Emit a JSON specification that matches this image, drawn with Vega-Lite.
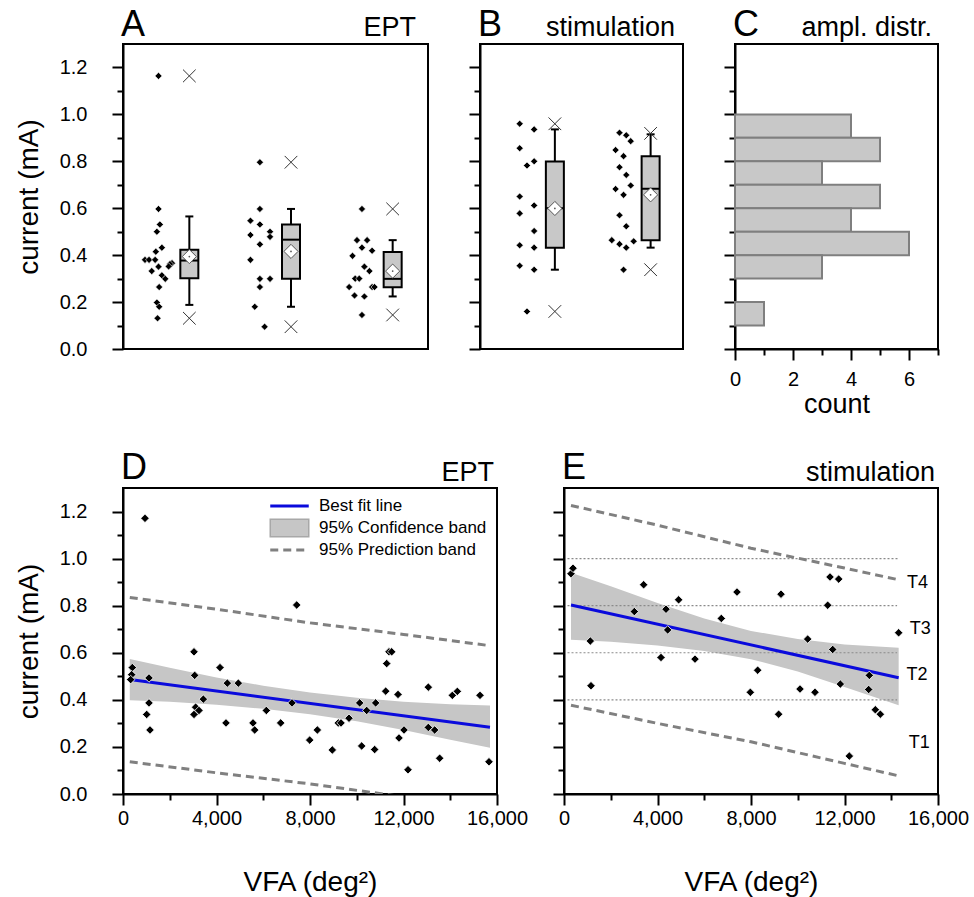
{
  "$schema": "https://vega.github.io/schema/vega-lite/v6.json",
  "background": "white",
  "padding": {"left": 14, "top": 6, "right": 5, "bottom": 5},
  "config": {
    "font": "Liberation Sans",
    "view": {"stroke": "#000", "strokeWidth": 2},
    "axis": {"domainColor": "#000", "domainWidth": 2, "tickColor": "#000", "tickWidth": 2, "tickSize": 11, "labelColor": "#000", "labelFontSize": 20, "titleColor": "#000", "titleFontSize": 28, "titleFontWeight": "normal", "grid": false, "labelFont": "Liberation Sans", "titleFont": "Liberation Sans"},
    "text": {"font": "Liberation Sans", "color": "#000"}
  },
  "datasets": {
    "a_dots": [
      {"g":"sham","v":1.164,"j":0},{"g":"sham","v":0.597,"j":0},{"g":"sham","v":0.531,"j":0.1},{"g":"sham","v":0.5,"j":-0.12},{"g":"sham","v":0.432,"j":0.25},{"g":"sham","v":0.415,"j":-0.2},{"g":"sham","v":0.38,"j":-1},{"g":"sham","v":0.38,"j":-0.7},{"g":"sham","v":0.38,"j":-0.25},{"g":"sham","v":0.366,"j":1},{"g":"sham","v":0.362,"j":0.85},{"g":"sham","v":0.351,"j":0},{"g":"sham","v":0.352,"j":0.75},{"g":"sham","v":0.332,"j":-0.5},{"g":"sham","v":0.314,"j":0.25},{"g":"sham","v":0.299,"j":0.5},{"g":"sham","v":0.264,"j":0.05},{"g":"sham","v":0.198,"j":-0.12},{"g":"sham","v":0.18,"j":0.05},{"g":"sham","v":0.131,"j":-0.07},
      {"g":"150%","v":0.796,"j":-0.02},{"g":"150%","v":0.597,"j":-0.02},{"g":"150%","v":0.547,"j":-0.72},{"g":"150%","v":0.531,"j":-0.02},{"g":"150%","v":0.5,"j":0.73},{"g":"150%","v":0.486,"j":-0.72},{"g":"150%","v":0.478,"j":0.73},{"g":"150%","v":0.446,"j":-0.02},{"g":"150%","v":0.38,"j":-0.72},{"g":"150%","v":0.299,"j":-0.02},{"g":"150%","v":0.299,"j":0.73},{"g":"150%","v":0.264,"j":-0.02},{"g":"150%","v":0.18,"j":-0.4},{"g":"150%","v":0.095,"j":0.33},
      {"g":"200%","v":0.597,"j":0.01},{"g":"200%","v":0.464,"j":-0.36},{"g":"200%","v":0.464,"j":0.39},{"g":"200%","v":0.432,"j":0.01},{"g":"200%","v":0.419,"j":0.76},{"g":"200%","v":0.397,"j":-0.69},{"g":"200%","v":0.351,"j":0.19},{"g":"200%","v":0.332,"j":0.56},{"g":"200%","v":0.3,"j":-0.49},{"g":"200%","v":0.3,"j":-0.19},{"g":"200%","v":0.264,"j":-0.94},{"g":"200%","v":0.264,"j":0.76},{"g":"200%","v":0.264,"j":0.94},{"g":"200%","v":0.228,"j":-0.54},{"g":"200%","v":0.224,"j":0.19},{"g":"200%","v":0.145,"j":0.01}
    ],
    "a_box": [
      {"g":"sham","q1":0.302,"med":0.377,"q3":0.423,"wlo":0.188,"whi":0.565,"mean":0.394,"mn":0.131,"mx":1.164},
      {"g":"150%","q1":0.299,"med":0.466,"q3":0.531,"wlo":0.18,"whi":0.597,"mean":0.416,"mn":0.095,"mx":0.796},
      {"g":"200%","q1":0.263,"med":0.299,"q3":0.413,"wlo":0.224,"whi":0.464,"mean":0.332,"mn":0.145,"mx":0.597}
    ],
    "b_dots": [
      {"g":"150%","v":0.96,"j":-0.54},{"g":"150%","v":0.936,"j":0.53},{"g":"150%","v":0.856,"j":-0.54},{"g":"150%","v":0.782,"j":0},{"g":"150%","v":0.8,"j":0.53},{"g":"150%","v":0.65,"j":-0.54},{"g":"150%","v":0.612,"j":0.53},{"g":"150%","v":0.578,"j":-0.54},{"g":"150%","v":0.503,"j":0.53},{"g":"150%","v":0.442,"j":-0.54},{"g":"150%","v":0.432,"j":0.53},{"g":"150%","v":0.355,"j":-0.54},{"g":"150%","v":0.338,"j":0.53},{"g":"150%","v":0.16,"j":0},
      {"g":"200%","v":0.922,"j":-0.24},{"g":"200%","v":0.911,"j":0.26},{"g":"200%","v":0.886,"j":0.59},{"g":"200%","v":0.848,"j":-0.53},{"g":"200%","v":0.822,"j":0.06},{"g":"200%","v":0.775,"j":-0.24},{"g":"200%","v":0.742,"j":0.26},{"g":"200%","v":0.682,"j":-0.53},{"g":"200%","v":0.697,"j":0.59},{"g":"200%","v":0.657,"j":0.06},{"g":"200%","v":0.57,"j":-0.24},{"g":"200%","v":0.523,"j":0.26},{"g":"200%","v":0.464,"j":-0.81},{"g":"200%","v":0.447,"j":-0.24},{"g":"200%","v":0.432,"j":0.26},{"g":"200%","v":0.459,"j":0.81},{"g":"200%","v":0.338,"j":0.06}
    ],
    "b_box": [
      {"g":"150%","q1":0.432,"med":0.6,"q3":0.799,"wlo":0.338,"whi":0.936,"mean":0.599,"mn":0.16,"mx":0.96},
      {"g":"200%","q1":0.463,"med":0.683,"q3":0.822,"wlo":0.432,"whi":0.915,"mean":0.657,"mn":0.338,"mx":0.919}
    ],
    "hist": [
      {"lo":0.9,"hi":1.0,"n":4},{"lo":0.8,"hi":0.9,"n":5},{"lo":0.7,"hi":0.8,"n":3},{"lo":0.6,"hi":0.7,"n":5},{"lo":0.5,"hi":0.6,"n":4},{"lo":0.4,"hi":0.5,"n":6},{"lo":0.3,"hi":0.4,"n":3},{"lo":0.1,"hi":0.2,"n":1}
    ],
    "d_pts": [
      {"x":941,"y":1.171},{"x":399,"y":0.537},{"x":371,"y":0.507},{"x":328,"y":0.486},{"x":1112,"y":0.493},{"x":1112,"y":0.387},{"x":1013,"y":0.338},{"x":1155,"y":0.272},{"x":3037,"y":0.604},{"x":3066,"y":0.504},{"x":3108,"y":0.369},{"x":3037,"y":0.338},{"x":3251,"y":0.355},{"x":3437,"y":0.403},{"x":4150,"y":0.537},{"x":4463,"y":0.471},{"x":4934,"y":0.471},{"x":4406,"y":0.302},{"x":5561,"y":0.302},{"x":5633,"y":0.272},{"x":6132,"y":0.355},{"x":6745,"y":0.302},{"x":7230,"y":0.387},{"x":7430,"y":0.803},{"x":7986,"y":0.229},{"x":8315,"y":0.272},{"x":8955,"y":0.187},{"x":9212,"y":0.302},{"x":9326,"y":0.302},{"x":9668,"y":0.322},{"x":10125,"y":0.387},{"x":10210,"y":0.204},{"x":10424,"y":0.355},{"x":10766,"y":0.189},{"x":10809,"y":0.387},{"x":11238,"y":0.437},{"x":11281,"y":0.554},{"x":11381,"y":0.604},{"x":11495,"y":0.604},{"x":11765,"y":0.423},{"x":11808,"y":0.238},{"x":12022,"y":0.272},{"x":12193,"y":0.103},{"x":13062,"y":0.454},{"x":13062,"y":0.283},{"x":13333,"y":0.272},{"x":13547,"y":0.152},{"x":14089,"y":0.419},{"x":14303,"y":0.436},{"x":15273,"y":0.419},{"x":15657,"y":0.137}
    ],
    "d_fit": [{"x":290,"y":0.486},{"x":15700,"y":0.284}],
    "d_band": [
      {"x":290,"lo":0.398,"hi":0.574},{"x":2000,"lo":0.392,"hi":0.536},{"x":4000,"lo":0.379,"hi":0.495},{"x":6000,"lo":0.362,"hi":0.46},{"x":8000,"lo":0.339,"hi":0.431},{"x":10000,"lo":0.309,"hi":0.409},{"x":12000,"lo":0.272,"hi":0.392},{"x":14000,"lo":0.231,"hi":0.381},{"x":15700,"lo":0.196,"hi":0.376}
    ],
    "d_pred": [
      {"x":290,"plo":0.137,"phi":0.835},{"x":4000,"plo":0.09,"phi":0.785},{"x":8000,"plo":0.043,"phi":0.727},{"x":12000,"plo":-0.012,"phi":0.678},{"x":15700,"plo":-0.065,"phi":0.63}
    ],
    "e_pts": [
      {"x":299,"y":0.936},{"x":385,"y":0.959},{"x":1127,"y":0.65},{"x":1155,"y":0.46},{"x":3009,"y":0.775},{"x":3408,"y":0.889},{"x":4150,"y":0.58},{"x":4364,"y":0.785},{"x":4435,"y":0.697},{"x":4905,"y":0.825},{"x":5604,"y":0.573},{"x":6730,"y":0.746},{"x":7401,"y":0.858},{"x":7971,"y":0.432},{"x":8285,"y":0.526},{"x":9183,"y":0.339},{"x":9283,"y":0.849},{"x":10096,"y":0.446},{"x":10424,"y":0.658},{"x":10737,"y":0.432},{"x":11281,"y":0.802},{"x":11380,"y":0.922},{"x":11495,"y":0.614},{"x":11751,"y":0.913},{"x":11822,"y":0.467},{"x":12207,"y":0.161},{"x":13062,"y":0.504},{"x":13033,"y":0.444},{"x":13319,"y":0.358},{"x":13533,"y":0.339},{"x":14317,"y":0.685}
    ],
    "e_fit": [{"x":299,"y":0.803},{"x":14317,"y":0.494}],
    "e_band": [
      {"x":299,"lo":0.655,"hi":0.94},{"x":2000,"lo":0.647,"hi":0.883},{"x":4000,"lo":0.631,"hi":0.811},{"x":6000,"lo":0.608,"hi":0.746},{"x":8000,"lo":0.573,"hi":0.693},{"x":10000,"lo":0.52,"hi":0.658},{"x":12000,"lo":0.455,"hi":0.635},{"x":14317,"lo":0.377,"hi":0.621}
    ],
    "e_pred": [
      {"x":299,"plo":0.377,"phi":1.226},{"x":4000,"plo":0.3,"phi":1.142},{"x":8000,"plo":0.222,"phi":1.044},{"x":12000,"plo":0.13,"phi":0.96},{"x":14317,"plo":0.077,"phi":0.91}
    ],
    "e_thr": [
      {"lvl":1.0,"x1":150,"x2":14320},{"lvl":0.8,"x1":150,"x2":14250},{"lvl":0.6,"x1":150,"x2":14250},{"lvl":0.4,"x1":150,"x2":14250}
    ],
    "e_tlab": [
      {"t":"T4","x":15125,"y":0.897},{"t":"T3","x":15245,"y":0.699},{"t":"T2","x":15100,"y":0.506},{"t":"T1","x":15200,"y":0.218}
    ]
  },
  "spacing": 31,
  "resolve": {"scale": {"stroke": "independent", "fill": "independent", "strokeDash": "independent"}, "legend": {"stroke": "independent", "fill": "independent", "strokeDash": "independent"}},
  "vconcat": [
    {
      "spacing": 38,
      "hconcat": [
        {
          "width": 305, "height": 305,
          "resolve": {"axis": {"y": "independent"}},
          "layer": [
            {
              "data": {"name": "a_dots"},
              "mark": {"type": "point", "shape": "diamond", "filled": true, "size": 50, "fill": "#000", "stroke": "#fff", "strokeWidth": 0.6, "opacity": 1},
              "encoding": {
                "x": {"field": "g", "type": "nominal", "scale": {"type": "band", "domain": ["sham", "150%", "200%"], "paddingInner": 0, "paddingOuter": 0}, "axis": {"title": null, "labelAngle": 0, "labelFontSize": 27, "labelPadding": 18}},
                "xOffset": {"field": "j", "type": "quantitative", "scale": {"domain": [-1, 1], "range": [22, 49]}},
                "y": {"field": "v", "type": "quantitative", "scale": {"domain": [0, 1.3], "nice": false, "zero": false}, "axis": {"orient": "left", "title": "current (mA)", "titlePadding": 16, "values": [0,0.2,0.4,0.6,0.8,1,1.2], "format": ".1f", "labelPadding": 25, "labelOverlap": false}}
              }
            },
            {
              "data": {"name": "a_box"},
              "mark": {"type": "rule", "stroke": "#000", "strokeWidth": 2, "xOffset": 15.5},
              "encoding": {"x": {"field": "g", "type": "nominal", "axis": null}, "y": {"field": "wlo", "type": "quantitative", "axis": {"orient": "left", "title": null, "labels": false, "domain": false, "tickSize": 6, "values": [0.1,0.3,0.5,0.7,0.9,1.1]}}, "y2": {"field": "whi"}}
            },
            {
              "data": {"name": "a_box"},
              "mark": {"type": "bar", "width": 18, "fill": "#c8c8c8", "stroke": "#000", "strokeWidth": 2, "xOffset": 15.5},
              "encoding": {"x": {"field": "g", "type": "nominal", "axis": null}, "y": {"field": "q1", "type": "quantitative", "axis": null}, "y2": {"field": "q3"}}
            },
            {
              "data": {"name": "a_box"},
              "transform": [{"fold": ["wlo", "whi"], "as": ["k", "cap"]}],
              "mark": {"type": "tick", "orient": "horizontal", "size": 8, "thickness": 2, "color": "#000", "opacity": 1, "xOffset": 15.5},
              "encoding": {"x": {"field": "g", "type": "nominal", "axis": null}, "y": {"field": "cap", "type": "quantitative", "axis": null}}
            },
            {
              "data": {"name": "a_box"},
              "mark": {"type": "tick", "orient": "horizontal", "size": 18, "thickness": 2, "color": "#000", "opacity": 1, "xOffset": 15.5},
              "encoding": {"x": {"field": "g", "type": "nominal", "axis": null}, "y": {"field": "med", "type": "quantitative", "axis": null}}
            },
            {
              "data": {"name": "a_box"},
              "mark": {"type": "point", "shape": "diamond", "size": 200, "filled": true, "fill": "#fff", "stroke": "#555", "strokeWidth": 1, "opacity": 1, "xOffset": 15.5},
              "encoding": {"x": {"field": "g", "type": "nominal", "axis": null}, "y": {"field": "mean", "type": "quantitative", "axis": null}}
            },
            {
              "data": {"name": "a_box"},
              "mark": {"type": "point", "shape": "circle", "size": 3, "filled": true, "fill": "#555", "strokeWidth": 0, "opacity": 1, "xOffset": 15.5},
              "encoding": {"x": {"field": "g", "type": "nominal", "axis": null}, "y": {"field": "mean", "type": "quantitative", "axis": null}}
            },
            {
              "data": {"name": "a_box"},
              "transform": [{"fold": ["mn", "mx"], "as": ["k", "ext"]}],
              "mark": {"type": "point", "shape": "M-1,-1L1,1M-1,1L1,-1", "size": 160, "filled": false, "stroke": "#333", "strokeWidth": 1, "opacity": 1, "xOffset": 15.5},
              "encoding": {"x": {"field": "g", "type": "nominal", "axis": null}, "y": {"field": "ext", "type": "quantitative", "axis": null}}
            },
            {
              "data": {"values": [{"p": "A", "n": "EPT"}]},
              "mark": {"type": "text", "fontSize": 36, "align": "left", "baseline": "alphabetic", "dx": -2, "dy": -8},
              "encoding": {"text": {"field": "p"}, "x": {"datum": "sham", "type": "nominal", "bandPosition": 0, "axis": null}, "y": {"datum": 1.3, "type": "quantitative", "axis": null}}
            },
            {
              "data": {"values": [{"p": "A", "n": "EPT"}]},
              "mark": {"type": "text", "fontSize": 27, "align": "right", "baseline": "alphabetic", "dx": -12, "dy": -8},
              "encoding": {"text": {"field": "n"}, "x": {"datum": "200%", "type": "nominal", "bandPosition": 1, "axis": null}, "y": {"datum": 1.3, "type": "quantitative", "axis": null}}
            }
          ]
        },
        {
          "width": 203, "height": 305,
          "resolve": {"axis": {"y": "independent"}},
          "layer": [
            {
              "data": {"name": "b_dots"},
              "mark": {"type": "point", "shape": "diamond", "filled": true, "size": 50, "fill": "#000", "stroke": "#fff", "strokeWidth": 0.6, "opacity": 1},
              "encoding": {
                "x": {"field": "g", "type": "nominal", "scale": {"type": "band", "domain": ["150%", "200%"], "paddingInner": 0, "paddingOuter": 0.06, "align": 1}, "axis": {"title": null, "labelAngle": 0, "labelFontSize": 27, "labelPadding": 18}},
                "xOffset": {"field": "j", "type": "quantitative", "scale": {"domain": [-1, 1], "range": [19.5, 45.5]}},
                "y": {"field": "v", "type": "quantitative", "scale": {"domain": [0, 1.3], "nice": false, "zero": false}, "axis": {"orient": "left", "title": null, "labels": false, "values": [0,0.2,0.4,0.6,0.8,1,1.2]}}
              }
            },
            {
              "data": {"name": "b_box"},
              "mark": {"type": "rule", "stroke": "#000", "strokeWidth": 2, "xOffset": 15.5},
              "encoding": {"x": {"field": "g", "type": "nominal", "axis": null}, "y": {"field": "wlo", "type": "quantitative", "axis": {"orient": "left", "title": null, "labels": false, "domain": false, "tickSize": 6, "values": [0.1,0.3,0.5,0.7,0.9,1.1]}}, "y2": {"field": "whi"}}
            },
            {
              "data": {"name": "b_box"},
              "mark": {"type": "bar", "width": 18, "fill": "#c8c8c8", "stroke": "#000", "strokeWidth": 2, "xOffset": 15.5},
              "encoding": {"x": {"field": "g", "type": "nominal", "axis": null}, "y": {"field": "q1", "type": "quantitative", "axis": null}, "y2": {"field": "q3"}}
            },
            {
              "data": {"name": "b_box"},
              "transform": [{"fold": ["wlo", "whi"], "as": ["k", "cap"]}],
              "mark": {"type": "tick", "orient": "horizontal", "size": 8, "thickness": 2, "color": "#000", "opacity": 1, "xOffset": 15.5},
              "encoding": {"x": {"field": "g", "type": "nominal", "axis": null}, "y": {"field": "cap", "type": "quantitative", "axis": null}}
            },
            {
              "data": {"name": "b_box"},
              "mark": {"type": "tick", "orient": "horizontal", "size": 18, "thickness": 2, "color": "#000", "opacity": 1, "xOffset": 15.5},
              "encoding": {"x": {"field": "g", "type": "nominal", "axis": null}, "y": {"field": "med", "type": "quantitative", "axis": null}}
            },
            {
              "data": {"name": "b_box"},
              "mark": {"type": "point", "shape": "diamond", "size": 200, "filled": true, "fill": "#fff", "stroke": "#555", "strokeWidth": 1, "opacity": 1, "xOffset": 15.5},
              "encoding": {"x": {"field": "g", "type": "nominal", "axis": null}, "y": {"field": "mean", "type": "quantitative", "axis": null}}
            },
            {
              "data": {"name": "b_box"},
              "mark": {"type": "point", "shape": "circle", "size": 3, "filled": true, "fill": "#555", "strokeWidth": 0, "opacity": 1, "xOffset": 15.5},
              "encoding": {"x": {"field": "g", "type": "nominal", "axis": null}, "y": {"field": "mean", "type": "quantitative", "axis": null}}
            },
            {
              "data": {"name": "b_box"},
              "transform": [{"fold": ["mn", "mx"], "as": ["k", "ext"]}],
              "mark": {"type": "point", "shape": "M-1,-1L1,1M-1,1L1,-1", "size": 160, "filled": false, "stroke": "#333", "strokeWidth": 1, "opacity": 1, "xOffset": 15.5},
              "encoding": {"x": {"field": "g", "type": "nominal", "axis": null}, "y": {"field": "ext", "type": "quantitative", "axis": null}}
            },
            {
              "data": {"values": [{"p": "B", "n": "stimulation"}]},
              "mark": {"type": "text", "fontSize": 36, "align": "left", "baseline": "alphabetic", "dx": -13.5, "dy": -8},
              "encoding": {"text": {"field": "p"}, "x": {"datum": "150%", "type": "nominal", "bandPosition": 0, "axis": null}, "y": {"datum": 1.3, "type": "quantitative", "axis": null}}
            },
            {
              "data": {"values": [{"p": "B", "n": "stimulation"}]},
              "mark": {"type": "text", "fontSize": 27, "align": "right", "baseline": "alphabetic", "dx": -8, "dy": -8},
              "encoding": {"text": {"field": "n"}, "x": {"datum": "200%", "type": "nominal", "bandPosition": 1, "axis": null}, "y": {"datum": 1.3, "type": "quantitative", "axis": null}}
            }
          ]
        },
        {
          "width": 203, "height": 305,
          "resolve": {"axis": {"x": "independent", "y": "independent"}},
          "layer": [
            {
              "data": {"name": "hist"},
              "mark": {"type": "bar", "fill": "#c8c8c8", "stroke": "#7f7f7f", "strokeWidth": 2},
              "encoding": {
                "x": {"field": "n", "type": "quantitative", "scale": {"domain": [0, 7], "nice": false}, "axis": {"orient": "bottom", "title": "count", "titleFontSize": 27, "titlePadding": 2, "values": [0,2,4,6], "labelFlush": false, "labelOverlap": false, "labelPadding": 9}},
                "x2": {"datum": 0},
                "y": {"field": "lo", "type": "quantitative", "scale": {"domain": [0, 1.3], "nice": false, "zero": false}, "axis": {"orient": "left", "title": null, "labels": false, "values": [0,0.2,0.4,0.6,0.8,1,1.2]}},
                "y2": {"field": "hi"}
              }
            },
            {
              "data": {"values": [{"p": "C", "n": "ampl. distr."}]},
              "mark": {"type": "text", "fontSize": 36, "align": "left", "baseline": "alphabetic", "dx": -2, "dy": -8},
              "encoding": {"text": {"field": "p"}, "x": {"datum": 0, "type": "quantitative", "axis": {"orient": "bottom", "title": null, "labels": false, "domain": false, "tickSize": 6, "values": [1,3,5,7]}}, "y": {"datum": 1.3, "type": "quantitative", "axis": {"orient": "left", "title": null, "labels": false, "domain": false, "tickSize": 6, "values": [0.1,0.3,0.5,0.7,0.9,1.1]}}}
            },
            {
              "data": {"values": [{"p": "C", "n": "ampl. distr."}]},
              "mark": {"type": "text", "fontSize": 27, "align": "right", "baseline": "alphabetic", "dx": -6, "dy": -8},
              "encoding": {"text": {"field": "n"}, "x": {"datum": 7, "type": "quantitative", "axis": null}, "y": {"datum": 1.3, "type": "quantitative", "axis": null}}
            }
          ]
        }
      ]
    },
    {
      "spacing": 22,
      "resolve": {"scale": {"stroke": "independent", "fill": "independent", "strokeDash": "independent"}, "legend": {"stroke": "independent", "fill": "independent", "strokeDash": "independent"}},
      "hconcat": [
        {
          "width": 374, "height": 306,
          "resolve": {"axis": {"x": "independent", "y": "independent"}},
          "layer": [
            {
              "data": {"name": "d_band"},
              "mark": {"type": "area", "opacity": 1},
              "encoding": {
                "x": {"field": "x", "type": "quantitative", "scale": {"domain": [0, 16000], "nice": false, "zero": false}, "axis": {"orient": "bottom", "title": "VFA (deg²)", "titlePadding": 40, "values": [0,4000,8000,12000,16000], "format": ",d", "labelFlush": false, "labelOverlap": false, "labelPadding": 3}},
                "y": {"field": "lo", "type": "quantitative", "scale": {"domain": [0, 1.3], "nice": false, "zero": false}, "axis": {"orient": "left", "title": "current (mA)", "titlePadding": 16, "values": [0,0.2,0.4,0.6,0.8,1,1.2], "format": ".1f", "labelPadding": 25, "labelOverlap": false}},
                "y2": {"field": "hi"},
                "fill": {
                  "datum": "95% Confidence band",
                  "scale": {"range": ["#c6c6c6"]},
                  "legend": {"orient": "none", "legendX": 158, "legendY": 31.5, "title": null, "padding": 0, "symbolType": "M-2.75,-1.25H2.75V1.25H-2.75Z", "symbolSize": 196, "symbolStrokeColor": "#a8a8a8", "symbolStrokeWidth": 1.5, "labelFontSize": 17, "labelColor": "#000", "labelFont": "Liberation Sans", "labelOffset": 21, "labelLimit": 400}
                }
              }
            },
            {
              "data": {"name": "d_pred"},
              "transform": [{"fold": ["plo", "phi"], "as": ["k", "pv"]}],
              "mark": {"type": "line", "strokeWidth": 3, "stroke": "#808080", "clip": true},
              "encoding": {
                "x": {"field": "x", "type": "quantitative", "axis": {"orient": "bottom", "title": null, "labels": false, "domain": false, "tickSize": 6, "values": [2000,6000,10000,14000]}},
                "y": {"field": "pv", "type": "quantitative", "axis": {"orient": "left", "title": null, "labels": false, "domain": false, "tickSize": 6, "values": [0.1,0.3,0.5,0.7,0.9,1.1]}},
                "detail": {"field": "k"},
                "strokeDash": {
                  "datum": "95% Prediction band",
                  "scale": {"range": [[8, 5]]},
                  "legend": {"orient": "none", "legendX": 158, "legendY": 53.5, "title": null, "padding": 0, "symbolType": "M-2.75,0H2.75", "symbolSize": 196, "symbolStrokeColor": "#808080", "symbolStrokeWidth": 3, "labelFontSize": 17, "labelColor": "#000", "labelFont": "Liberation Sans", "labelOffset": 21, "labelLimit": 400}
                }
              }
            },
            {
              "data": {"name": "d_fit"},
              "mark": {"type": "line", "strokeWidth": 3},
              "encoding": {
                "x": {"field": "x", "type": "quantitative", "axis": null},
                "y": {"field": "y", "type": "quantitative", "axis": null},
                "stroke": {
                  "datum": "Best fit line",
                  "scale": {"range": ["#0a0adc"]},
                  "legend": {"orient": "none", "legendX": 158, "legendY": 9.5, "title": null, "padding": 0, "symbolType": "M-2.75,0H2.75", "symbolSize": 196, "symbolStrokeWidth": 3, "labelFontSize": 17, "labelColor": "#000", "labelFont": "Liberation Sans", "labelOffset": 21, "labelLimit": 400}
                }
              }
            },
            {
              "data": {"name": "d_pts"},
              "mark": {"type": "point", "shape": "diamond", "filled": true, "size": 72, "fill": "#000", "stroke": "#fff", "strokeWidth": 0.8, "opacity": 1},
              "encoding": {"x": {"field": "x", "type": "quantitative", "axis": null}, "y": {"field": "y", "type": "quantitative", "axis": null}}
            },
            {
              "data": {"values": [{"p": "D", "n": "EPT"}]},
              "mark": {"type": "text", "fontSize": 36, "align": "left", "baseline": "alphabetic", "dx": -2, "dy": -9},
              "encoding": {"text": {"field": "p"}, "x": {"datum": 0, "type": "quantitative", "axis": null}, "y": {"datum": 1.3, "type": "quantitative", "axis": null}}
            },
            {
              "data": {"values": [{"p": "D", "n": "EPT"}]},
              "mark": {"type": "text", "fontSize": 27, "align": "right", "baseline": "alphabetic", "dx": -3, "dy": -7},
              "encoding": {"text": {"field": "n"}, "x": {"datum": 16000, "type": "quantitative", "axis": null}, "y": {"datum": 1.3, "type": "quantitative", "axis": null}}
            }
          ]
        },
        {
          "width": 374, "height": 306,
          "resolve": {"axis": {"x": "independent", "y": "independent"}},
          "layer": [
            {
              "data": {"name": "e_band"},
              "mark": {"type": "area", "opacity": 1, "fill": "#c6c6c6"},
              "encoding": {
                "x": {"field": "x", "type": "quantitative", "scale": {"domain": [0, 16000], "nice": false, "zero": false}, "axis": {"orient": "bottom", "title": "VFA (deg²)", "titlePadding": 40, "values": [0,4000,8000,12000,16000], "format": ",d", "labelFlush": false, "labelOverlap": false, "labelPadding": 3}},
                "y": {"field": "lo", "type": "quantitative", "scale": {"domain": [0, 1.3], "nice": false, "zero": false}, "axis": {"orient": "left", "title": null, "labels": false, "values": [0,0.2,0.4,0.6,0.8,1,1.2]}},
                "y2": {"field": "hi"}
              }
            },
            {
              "data": {"name": "e_thr"},
              "mark": {"type": "rule", "stroke": "#8a8a8a", "strokeWidth": 1.2, "strokeDash": [2, 2]},
              "encoding": {
                "x": {"field": "x1", "type": "quantitative", "axis": {"orient": "bottom", "title": null, "labels": false, "domain": false, "tickSize": 6, "values": [2000,6000,10000,14000]}},
                "x2": {"field": "x2"},
                "y": {"field": "lvl", "type": "quantitative", "axis": {"orient": "left", "title": null, "labels": false, "domain": false, "tickSize": 6, "values": [0.1,0.3,0.5,0.7,0.9,1.1]}}
              }
            },
            {
              "data": {"name": "e_pred"},
              "transform": [{"fold": ["plo", "phi"], "as": ["k", "pv"]}],
              "mark": {"type": "line", "strokeWidth": 3, "strokeDash": [8, 5], "stroke": "#808080", "clip": true},
              "encoding": {"x": {"field": "x", "type": "quantitative", "axis": null}, "y": {"field": "pv", "type": "quantitative", "axis": null}, "detail": {"field": "k"}}
            },
            {
              "data": {"name": "e_fit"},
              "mark": {"type": "line", "strokeWidth": 3, "stroke": "#0a0adc"},
              "encoding": {"x": {"field": "x", "type": "quantitative", "axis": null}, "y": {"field": "y", "type": "quantitative", "axis": null}}
            },
            {
              "data": {"name": "e_pts"},
              "mark": {"type": "point", "shape": "diamond", "filled": true, "size": 72, "fill": "#000", "stroke": "#fff", "strokeWidth": 0.8, "opacity": 1},
              "encoding": {"x": {"field": "x", "type": "quantitative", "axis": null}, "y": {"field": "y", "type": "quantitative", "axis": null}}
            },
            {
              "data": {"name": "e_tlab"},
              "mark": {"type": "text", "fontSize": 18, "align": "center", "baseline": "middle"},
              "encoding": {"text": {"field": "t"}, "x": {"field": "x", "type": "quantitative", "axis": null}, "y": {"field": "y", "type": "quantitative", "axis": null}}
            },
            {
              "data": {"values": [{"p": "E", "n": "stimulation"}]},
              "mark": {"type": "text", "fontSize": 36, "align": "left", "baseline": "alphabetic", "dx": -2, "dy": -9},
              "encoding": {"text": {"field": "p"}, "x": {"datum": 0, "type": "quantitative", "axis": null}, "y": {"datum": 1.3, "type": "quantitative", "axis": null}}
            },
            {
              "data": {"values": [{"p": "E", "n": "stimulation"}]},
              "mark": {"type": "text", "fontSize": 27, "align": "right", "baseline": "alphabetic", "dx": -3, "dy": -7},
              "encoding": {"text": {"field": "n"}, "x": {"datum": 16000, "type": "quantitative", "axis": null}, "y": {"datum": 1.3, "type": "quantitative", "axis": null}}
            }
          ]
        }
      ]
    }
  ]
}
